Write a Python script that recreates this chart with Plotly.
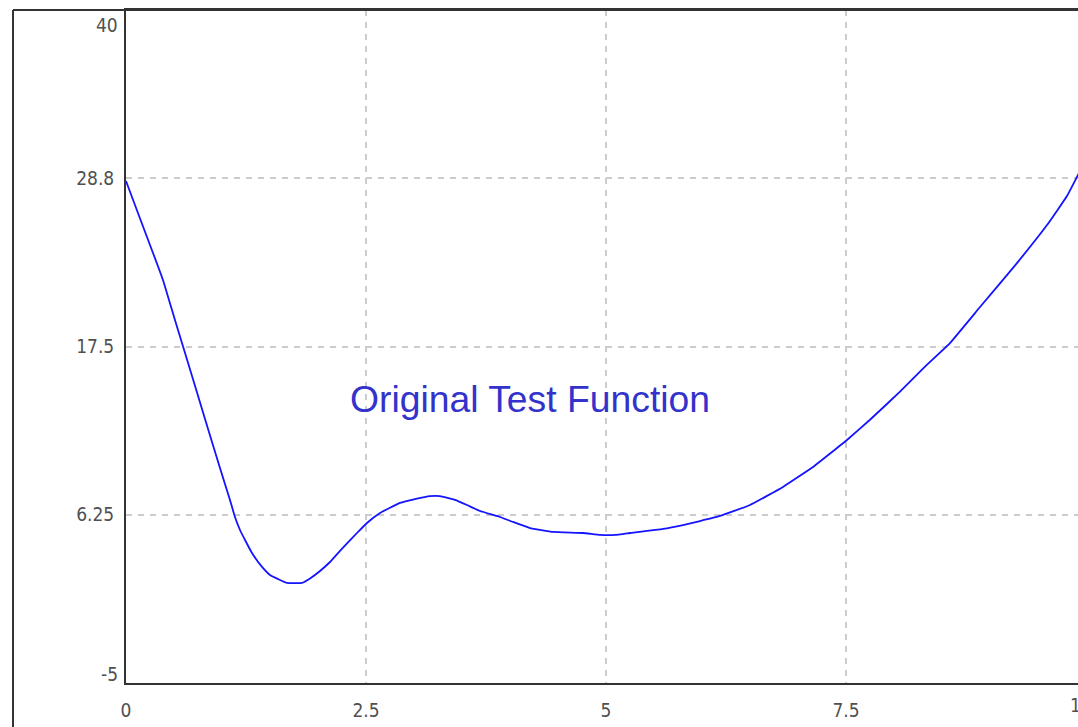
import plotly.graph_objects as go

# ---- data ----
x_vals = [0, 0.146, 0.25, 0.385, 0.510, 0.615, 0.740, 0.823, 0.896, 0.979, 1.083, 1.135,
          1.1875, 1.240, 1.3125, 1.417, 1.5, 1.604, 1.677, 1.833, 1.917, 2.021, 2.125,
          2.229, 2.406, 2.510, 2.646, 2.854, 3.010, 3.167, 3.271, 3.427, 3.552, 3.6875,
          3.896, 4.031, 4.208, 4.448, 4.760, 4.9375, 5.094, 5.25, 5.594, 5.802, 5.979,
          6.1875, 6.5, 6.844, 7.156, 7.510, 7.75, 8.0625, 8.323, 8.583, 8.896, 9.281,
          9.594, 9.802, 9.917, 10]
y_vals = [28.57, 26.06, 24.29, 21.95, 19.27, 17.06, 14.42, 12.65, 11.11, 9.38, 7.24, 6.10,
          5.23, 4.56, 3.69, 2.76, 2.22, 1.89, 1.69, 1.69, 1.99, 2.49, 3.09,
          3.83, 5.03, 5.70, 6.37, 7.04, 7.30, 7.50, 7.50, 7.24, 6.90, 6.50,
          6.10, 5.77, 5.36, 5.10, 5.03, 4.90, 4.90, 5.03, 5.30, 5.56, 5.83,
          6.17, 6.90, 8.11, 9.44, 11.25, 12.60, 14.48, 16.16, 17.73, 20.14, 23.08,
          25.62, 27.56, 28.97, 29.97]

x_ticks = [0, 2.5, 5, 7.5]
x_tick_text = ["0", "2.5", "5", "7.5"]
y_ticks = [-5, 6.25, 17.5, 28.75, 40]
y_tick_text = ["", "6.25", "17.5", "28.8", ""]
title_text = "Original Test Function"

W, H = 1078, 727
ML, MT, MB = 126, 10, 44
plot_w = W - ML
px_per_unit = 96.0
x_max = plot_w / px_per_unit

tick_font = dict(family="Liberation Sans Narrow, DejaVu Sans Condensed, Liberation Sans",
                 size=19, color="#505050")

fig = go.Figure()
fig.add_trace(go.Scatter(
    x=x_vals, y=y_vals, mode="lines",
    line=dict(color="#1414ff", width=1.8, shape="spline", smoothing=0.3),
    showlegend=False, hoverinfo="skip",
))

fig.update_layout(
    width=W, height=H,
    margin=dict(l=ML, r=0, t=MT, b=MB, pad=0),
    paper_bgcolor="white", plot_bgcolor="white",
    xaxis=dict(range=[0, x_max], tickvals=x_ticks, ticktext=x_tick_text,
               showgrid=True, gridcolor="#cccccc", gridwidth=1.5, griddash="6px,6px",
               zeroline=False, showline=True, linecolor="#333333", linewidth=2,
               mirror=True, ticks="", tickfont=tick_font, ticklabelstandoff=9),
    yaxis=dict(range=[-5, 40], tickvals=y_ticks, ticktext=y_tick_text,
               showgrid=True, gridcolor="#cccccc", gridwidth=1.5, griddash="6px,6px",
               zeroline=False, showline=True, linecolor="#333333", linewidth=2,
               mirror=False, ticks="", tickfont=tick_font, ticklabelstandoff=6),
)

# end-of-axis tick labels placed inside like the reference
fig.add_annotation(text="40", xref="paper", yref="y", x=0, y=40, xanchor="right",
                   yanchor="middle", xshift=-6, yshift=-15, showarrow=False, font=tick_font)
fig.add_annotation(text="-5", xref="paper", yref="y", x=0, y=-5, xanchor="right",
                   yanchor="middle", xshift=-6, yshift=9, showarrow=False, font=tick_font)
fig.add_annotation(text="10", xref="paper", yref="paper", x=(1068 - ML) / plot_w, y=0,
                   xanchor="left", yanchor="top", yshift=-9, showarrow=False, font=tick_font)

# chart title text inside the plot
fig.add_annotation(text=title_text, xref="x", yref="y", x=4.208, y=14.0,
                   xanchor="center", yanchor="middle", showarrow=False,
                   font=dict(family="Liberation Sans, Arial", size=37.3, color="#3333cc"))

# outer frame (left and top edges)
fx = (13 - ML) / plot_w
fig.add_shape(type="line", xref="paper", yref="paper", x0=fx, x1=1.0, y0=1.0, y1=1.0,
              line=dict(color="#333333", width=2))
fig.add_shape(type="line", xref="paper", yref="paper", x0=fx, x1=fx, y0=1.0, y1=-0.2,
              line=dict(color="#333333", width=2))

fig.write_html(
    "out.html",
    config={"displayModeBar": False},
    post_script="document.body.style.margin='0';document.body.style.overflow='hidden';",
)
